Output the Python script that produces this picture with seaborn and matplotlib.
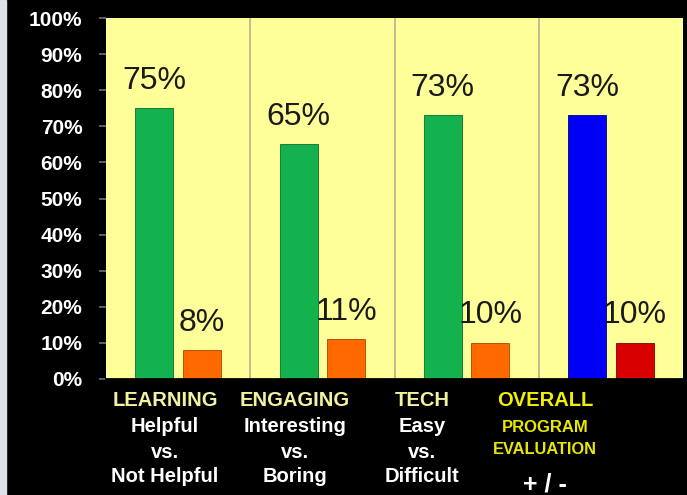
import matplotlib
matplotlib.use("Agg")
import matplotlib.pyplot as plt
from matplotlib.patches import Rectangle
import seaborn as sns
import pandas as pd

categories = ["LEARNING", "ENGAGING", "TECH", "OVERALL"]
series = ["Positive", "Negative"]
positive = [75, 65, 73, 73]
negative = [8, 11, 10, 10]
ytick_values = list(range(0, 101, 10))
ytick_labels = [f"{v}%" for v in ytick_values]

df = pd.DataFrame({
    "Category": categories * 2,
    "Response": [series[0]] * len(categories) + [series[1]] * len(categories),
    "Value": positive + negative,
})

sns.set_theme(style="white")
plt.rcParams["font.family"] = ["Liberation Sans", "DejaVu Sans"]

W, H = 687, 495
fig = plt.figure(figsize=(W / 100, H / 100), dpi=100, facecolor="black")
fig.patches.append(Rectangle((0, 0), 6 / W, 1, transform=fig.transFigure,
                             color="#DDE2EA", zorder=0))

ax = fig.add_axes([106 / W, 1 - 379 / H, 577 / W, 361 / H])
ax.set_facecolor("#FFFF99")

sns.barplot(data=df, x="Category", y="Value", hue="Response",
            hue_order=series, order=categories,
            palette={"Positive": "#14B24F", "Negative": "#FF6A00"},
            saturation=1, width=0.66, gap=0.2, legend=False, ax=ax,
            edgecolor="#0b6e2e", linewidth=0.6)

# recolor: overall group uses blue/red
for bar in ax.containers[1]:
    bar.set_edgecolor("#b04000")
ax.containers[0][3].set_facecolor("#0000F5")
ax.containers[0][3].set_edgecolor("#00008a")
ax.containers[1][3].set_facecolor("#D80000")
ax.containers[1][3].set_edgecolor("#7a0000")

for cont, vals in zip(ax.containers, [positive, negative]):
    ax.bar_label(cont, labels=[f"{v}%" for v in vals], padding=9,
                 fontsize=23, color="#1a1a1a")

for xv in [0.5, 1.5, 2.5]:
    ax.axvline(xv, color="#B8B090", lw=1.2, zorder=0.5)

ax.set_xlim(-0.5, 3.5)
ax.set_ylim(0, 100)
ax.set_yticks(ytick_values)
ax.set_yticklabels(ytick_labels, color="white", fontweight="bold", fontsize=15)
ax.tick_params(axis="y", which="major", left=True, length=5, width=1.2,
               color="#707070", pad=12)
ax.set_xticks([])
ax.set_xlabel("")
ax.set_ylabel("")
for side in ["top", "right", "left"]:
    ax.spines[side].set_visible(False)
ax.spines["bottom"].set_color("black")
ax.spines["bottom"].set_linewidth(2)

# category labels below the axis
def ftext(x, y, s, **kw):
    fig.text(x / W, 1 - y / H, s, ha="center", va="center",
             fontweight="bold", **kw)

label_x = [165, 295, 422, 545]
pale = "#F2F2A0"
groups = [
    ["Helpful", "vs.", "Not Helpful"],
    ["Interesting", "vs.", "Boring"],
    ["Easy", "vs.", "Difficult"],
]
for i in range(3):
    ftext(label_x[i], 401, categories[i], color=pale, fontsize=14.5)
    for txt, yy in zip(groups[i], [427, 453, 477]):
        ftext(label_x[i], yy, txt, color="white", fontsize=14.5)

ftext(label_x[3], 401, categories[3], color="#F0F000", fontsize=14.5)
ftext(label_x[3], 427, "PROGRAM", color="#E8E800", fontsize=12)
ftext(label_x[3], 450, "EVALUATION", color="#E8E800", fontsize=11.8)
ftext(label_x[3], 484, "+ / -", color="white", fontsize=18)

fig.savefig("out.png", dpi=100, facecolor="black")
